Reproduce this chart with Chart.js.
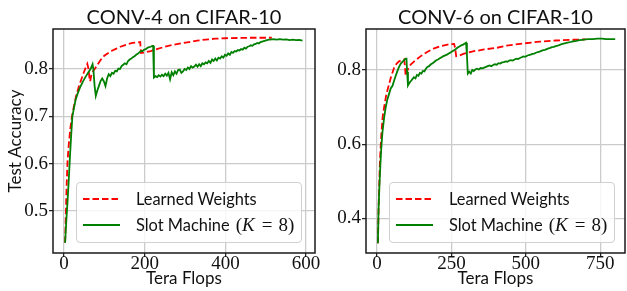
<!DOCTYPE html>
<html>
<head>
<meta charset="utf-8">
<script src="https://cdn.jsdelivr.net/npm/chart.js@4.4.1/dist/chart.umd.min.js"></script>
<style>
  html, body { margin: 0; padding: 0; background: #fff; }
  #fig { position: relative; width: 627px; height: 291px; overflow: hidden; }
  #fig canvas { position: absolute; left: 0; top: 0; }
  .title { position: absolute; top: 4px; font-family: Lato, sans-serif; font-size: 20px; line-height: 24px; text-align: center; color: #111; white-space: nowrap; }
  .legend { position: absolute; width: 226px; height: 61px; border: 1px solid #d0d0d0; border-radius: 4px; background: rgba(255,255,255,0.8); box-sizing: border-box; }
  .legend .row { position: absolute; left: 0; height: 26px; line-height: 26px; font-family: Lato, sans-serif; font-size: 16.4px; color: #111; white-space: nowrap; }
  .legend svg { position: absolute; left: 5px; top: 0; }
  .legend .lbl { position: absolute; left: 59px; top: 0; }
  .math { font-family: "Liberation Serif", serif; font-size: 19px; margin-left: 6px; }
  .math i { margin-right: 1px; }
  .math .eq { margin: 0 6px; }
</style>
</head>
<body>
<div id="fig">
  <canvas id="c4" width="627" height="291"></canvas>
  <canvas id="c6" width="627" height="291"></canvas>
  <div class="title" style="left:53px;width:262px">CONV-4 on CIFAR-10</div>
  <div class="title" style="left:366px;width:259px">CONV-6 on CIFAR-10</div>
  <div class="legend" style="left:76px;top:182px"></div>
  <div class="legend" style="left:389px;top:182px"></div>
</div>
<script>
// ── CONV-4 data (Tera Flops vs test accuracy) ─────────────────
const conv4LearnedX = [3, 5, 7, 9, 12, 16, 20, 25, 30, 37, 43, 49, 54, 58, 61, 63, 65, 68, 72, 80, 90, 100, 110, 120, 130, 140, 150, 160, 170, 180, 189, 190, 191, 200, 215, 230, 250, 270, 290, 310, 330, 350, 375, 400, 430, 460, 490, 515];
const conv4LearnedY = [0.433, 0.50, 0.56, 0.605, 0.64, 0.675, 0.70, 0.722, 0.742, 0.763, 0.778, 0.792, 0.803, 0.811, 0.80, 0.783, 0.774, 0.787, 0.795, 0.805, 0.818, 0.828, 0.834, 0.839, 0.843, 0.847, 0.85, 0.853, 0.855, 0.856, 0.857, 0.845, 0.834, 0.835, 0.838, 0.842, 0.847, 0.851, 0.854, 0.857, 0.86, 0.862, 0.864, 0.865, 0.8655, 0.866, 0.866, 0.866];

const conv4SlotX = [3, 6, 9, 12, 15, 18, 21, 25, 29, 34, 41, 48, 54, 60, 66, 71, 73, 76, 79, 83, 87, 91, 95, 99, 103, 107, 111, 115, 119, 123, 127, 131, 135, 139, 143, 147, 151, 155, 159, 163, 167, 171, 175, 179, 183, 187, 191, 195, 199, 203, 207, 211, 215, 219, 221, 223, 227, 231, 235, 239, 243, 247, 251, 255, 259, 263, 267, 271, 275, 279, 283, 287, 291, 295, 299, 303, 307, 311, 315, 319, 323, 327, 331, 335, 339, 343, 347, 351, 355, 359, 363, 367, 371, 375, 379, 383, 387, 391, 395, 399, 403, 407, 411, 415, 419, 423, 427, 431, 435, 439, 443, 447, 451, 455, 459, 463, 467, 471, 475, 479, 483, 487, 491, 495, 499, 503, 507, 511, 519, 527, 535, 543, 551, 559, 567, 575, 583, 591];
const conv4SlotY = [0.433, 0.48, 0.52, 0.565, 0.615, 0.66, 0.70, 0.718, 0.735, 0.748, 0.763, 0.775, 0.784, 0.792, 0.80, 0.81, 0.80, 0.765, 0.743, 0.755, 0.765, 0.775, 0.78, 0.774, 0.764, 0.78, 0.789, 0.785, 0.792, 0.79, 0.796, 0.795, 0.801, 0.80, 0.806, 0.809, 0.812, 0.81, 0.817, 0.82, 0.822, 0.825, 0.827, 0.83, 0.832, 0.835, 0.838, 0.838, 0.841, 0.842, 0.845, 0.846, 0.847, 0.849, 0.849, 0.782, 0.785, 0.783, 0.787, 0.784, 0.788, 0.785, 0.79, 0.786, 0.792, 0.778, 0.793, 0.787, 0.795, 0.79, 0.798, 0.799, 0.792, 0.795, 0.80, 0.798, 0.803, 0.80, 0.806, 0.803, 0.805, 0.809, 0.805, 0.81, 0.806, 0.812, 0.81, 0.814, 0.812, 0.817, 0.813, 0.82, 0.817, 0.822, 0.818, 0.824, 0.822, 0.827, 0.824, 0.83, 0.828, 0.833, 0.83, 0.836, 0.834, 0.838, 0.837, 0.84, 0.839, 0.842, 0.841, 0.845, 0.843, 0.847, 0.848, 0.85, 0.849, 0.852, 0.853, 0.855, 0.854, 0.857, 0.858, 0.859, 0.86, 0.861, 0.862, 0.862, 0.863, 0.862, 0.863, 0.862, 0.8625, 0.861, 0.862, 0.861, 0.8615, 0.860];

const conv4XTicks = [0, 200, 400, 600];
const conv4YTicks = [0.5, 0.6, 0.7, 0.8];

// ── CONV-6 data ───────────────────────────────────────────────
const conv6LearnedX = [3, 6, 10, 14, 19, 24, 30, 35, 46, 57, 66, 74, 82, 91, 94, 96, 100, 106, 113, 125, 147, 170, 192, 215, 237, 259, 262, 266, 275, 290, 304, 322, 340, 360, 400, 435, 490, 547, 600, 659, 700];
const conv6LearnedY = [0.333, 0.45, 0.558, 0.62, 0.674, 0.70, 0.728, 0.745, 0.778, 0.805, 0.817, 0.823, 0.826, 0.828, 0.81, 0.784, 0.795, 0.805, 0.814, 0.823, 0.837, 0.849, 0.858, 0.864, 0.868, 0.870, 0.86, 0.837, 0.838, 0.843, 0.846, 0.85, 0.852, 0.855, 0.859, 0.865, 0.871, 0.876, 0.879, 0.881, 0.882];

const conv6SlotX = [3, 5, 8, 11, 14, 18, 24, 29, 34, 40, 46, 52, 57, 62, 68, 74, 80, 86, 91, 96, 99, 101, 104, 109, 114, 119, 124, 129, 134, 139, 144, 149, 154, 159, 164, 169, 175, 181, 187, 193, 199, 205, 211, 217, 223, 229, 235, 241, 247, 253, 259, 265, 271, 277, 283, 289, 295, 299, 302, 305, 310, 315, 320, 325, 330, 336, 342, 348, 354, 360, 366, 372, 378, 384, 390, 396, 402, 408, 414, 420, 426, 432, 438, 444, 450, 456, 462, 468, 474, 480, 486, 492, 498, 504, 510, 516, 522, 528, 534, 540, 546, 552, 558, 564, 570, 576, 582, 588, 594, 600, 610, 620, 630, 640, 650, 660, 670, 680, 690, 700, 710, 725, 740, 755, 770, 785, 800];
const conv6SlotY = [0.333, 0.42, 0.486, 0.54, 0.585, 0.63, 0.672, 0.698, 0.718, 0.734, 0.75, 0.757, 0.77, 0.782, 0.796, 0.808, 0.817, 0.822, 0.826, 0.830, 0.83, 0.795, 0.758, 0.765, 0.77, 0.775, 0.78, 0.777, 0.786, 0.784, 0.792, 0.79, 0.797, 0.796, 0.803, 0.808, 0.81, 0.815, 0.818, 0.822, 0.826, 0.828, 0.831, 0.834, 0.837, 0.839, 0.841, 0.844, 0.847, 0.85, 0.853, 0.856, 0.86, 0.863, 0.866, 0.868, 0.871, 0.873, 0.84, 0.79, 0.795, 0.79, 0.80, 0.797, 0.801, 0.803, 0.801, 0.805, 0.804, 0.806, 0.808, 0.81, 0.812, 0.81, 0.813, 0.815, 0.814, 0.818, 0.817, 0.82, 0.821, 0.823, 0.822, 0.825, 0.826, 0.825, 0.828, 0.83, 0.829, 0.832, 0.834, 0.836, 0.835, 0.838, 0.84, 0.841, 0.843, 0.844, 0.846, 0.848, 0.849, 0.851, 0.853, 0.854, 0.856, 0.858, 0.859, 0.861, 0.862, 0.864, 0.866, 0.869, 0.871, 0.873, 0.875, 0.877, 0.878, 0.88, 0.881, 0.882, 0.883, 0.883, 0.884, 0.884, 0.883, 0.883, 0.883];

const conv6XTicks = [0, 250, 500, 750];
const conv6YTicks = [0.4, 0.6, 0.8];

// ── Legend entries ────────────────────────────────────────────
const seriesNames = ['Learned Weights', 'Slot Machine'];
const RED   = '#ff0000';
const GREEN = '#008000';

// ── Helpers ───────────────────────────────────────────────────
const pts = (xs, ys) => xs.map((x, i) => ({ x, y: ys[i] }));

const framePlugin = {
  id: 'frame',
  afterDatasetsDraw(chart) {
    const { ctx, chartArea: a } = chart;
    ctx.save();
    ctx.strokeStyle = '#1a1a1a';
    ctx.lineWidth = 1.5;
    ctx.strokeRect(a.left, a.top, a.right - a.left, a.bottom - a.top);
    ctx.restore();
  },
};

const tickFont  = { family: 'Liberation Serif', size: 19 };
const labelFont = { family: 'Lato', size: 17 };
const gridOpts  = { color: '#cbcbcb', lineWidth: 1.3, tickColor: '#1a1a1a', tickLength: 4, tickWidth: 1.2 };

function makePanel(id, p) {
  const ctx = document.getElementById(id).getContext('2d');
  return new Chart(ctx, {
    type: 'line',
    data: {
      datasets: [
        { data: pts(p.slotX, p.slotY), borderColor: GREEN, borderWidth: 1.8, pointRadius: 0, tension: 0, fill: false },
        { data: pts(p.learnedX, p.learnedY), borderColor: RED, borderWidth: 1.8, borderDash: [6.5, 3], pointRadius: 0, tension: 0, fill: false },
      ],
    },
    options: {
      responsive: false,
      animation: false,
      devicePixelRatio: 1,
      layout: { padding: p.padding },
      plugins: { legend: { display: false }, tooltip: { enabled: false } },
      scales: {
        x: {
          type: 'linear', min: p.xMin, max: p.xMax,
          grid: gridOpts, border: { display: false },
          ticks: { font: tickFont, color: '#111', padding: -4, maxRotation: 0, autoSkip: false, callback: v => String(v) },
          title: { display: true, text: 'Tera Flops', font: labelFont, color: '#111', padding: { top: 0, bottom: 2 } },
          afterBuildTicks: s => { s.ticks = p.xTicks.map(v => ({ value: v })); },
          afterFit: s => { s.height = 38; s.paddingLeft = 0; s.paddingRight = 0; },
        },
        y: {
          type: 'linear', min: p.yMin, max: p.yMax,
          grid: gridOpts, border: { display: false },
          ticks: { font: tickFont, color: '#111', padding: 1, autoSkip: false, callback: v => v.toFixed(1) },
          title: { display: !!p.yTitle, text: p.yTitle || '', font: labelFont, color: '#111', padding: { top: 5, bottom: 0 } },
          afterBuildTicks: s => { s.ticks = p.yTicks.map(v => ({ value: v })); },
          afterFit: s => { s.width = p.yWidth; s.paddingTop = 0; s.paddingBottom = 0; },
        },
      },
    },
    plugins: [framePlugin],
  });
}

makePanel('c4', {
  learnedX: conv4LearnedX, learnedY: conv4LearnedY, slotX: conv4SlotX, slotY: conv4SlotY,
  xTicks: conv4XTicks, yTicks: conv4YTicks,
  xMin: -27, xMax: 622, yMin: 0.4115, yMax: 0.8845,
  yWidth: 53, yTitle: 'Test Accuracy',
  padding: { left: 0, top: 29, right: 312, bottom: 0 },
});

makePanel('c6', {
  learnedX: conv6LearnedX, learnedY: conv6LearnedY, slotX: conv6SlotX, slotY: conv6SlotY,
  xTicks: conv6XTicks, yTicks: conv6YTicks,
  xMin: -37, xMax: 833, yMin: 0.307, yMax: 0.91,
  yWidth: 48, yTitle: '',
  padding: { left: 318, top: 29, right: 2, bottom: 0 },
});

// ── HTML legends (inside the axes, lower right) ───────────────
document.querySelectorAll('.legend').forEach(box => {
  box.innerHTML = `
    <div class="row" style="top:3px;width:100%">
      <svg width="40" height="26"><line x1="1" y1="13" x2="38" y2="13" stroke="${RED}" stroke-width="1.8" stroke-dasharray="6.5 3"/></svg>
      <span class="lbl">${seriesNames[0]}</span>
    </div>
    <div class="row" style="top:29px;width:100%">
      <svg width="40" height="26"><line x1="1" y1="13" x2="38" y2="13" stroke="${GREEN}" stroke-width="1.8"/></svg>
      <span class="lbl">${seriesNames[1]}<span class="math">(<i>K</i><span class="eq">=</span>8)</span></span>
    </div>`;
});
</script>
</body>
</html>
